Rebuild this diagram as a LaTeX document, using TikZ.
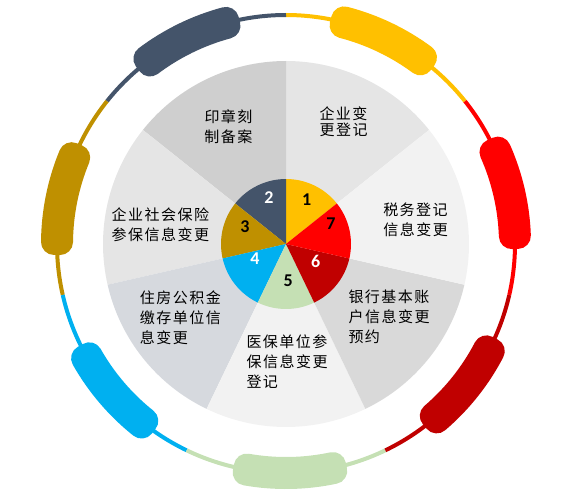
\documentclass[tikz,border=0pt]{standalone}
\usepackage{fontspec}
\newfontfamily\cjk[LetterSpace=10]{Noto Sans CJK SC}
\newfontfamily\numfont{Carlito}

\definecolor{cOne}{HTML}{FFC000}
\definecolor{cTwo}{HTML}{44546A}
\definecolor{cThree}{HTML}{BF9000}
\definecolor{cFour}{HTML}{00B0F0}
\definecolor{cFive}{HTML}{C5E0B4}
\definecolor{cSix}{HTML}{C00000}
\definecolor{cSeven}{HTML}{FF0000}

\tikzset{
  ring/.style={line width=4},
  bar/.style={line width=26, line join=round},
  tasktext/.style={font=\cjk\fontsize{15}{20}\selectfont, align=left, inner sep=0},
  numtext/.style={font=\numfont\bfseries\fontsize{18}{18}\selectfont, inner sep=0}
}

\begin{document}
\begin{tikzpicture}[x=1pt,y=1pt]
  \useasboundingbox (-286,-257) rectangle (286,244);

  % big sectors
  \fill[gray!20]        (0,0) -- (38.57:183) arc (38.57:90:183) -- cycle;
  \fill[black!19]       (0,0) -- (90:183) arc (90:141.43:183) -- cycle;
  \fill[gray!20]        (0,0) -- (141.43:183) arc (141.43:192.86:183) -- cycle;
  \fill[cTwo!22]        (0,0) -- (192.86:183) arc (192.86:244.29:183) -- cycle;
  \fill[black!5]        (0,0) -- (244.29:183) arc (244.29:295.71:183) -- cycle;
  \fill[black!15]       (0,0) -- (295.71:183) arc (295.71:347.14:183) -- cycle;
  \fill[black!5]        (0,0) -- (-12.86:183) arc (-12.86:38.57:183) -- cycle;

  % small pie
  \fill[cOne]   (0,0) -- (38.57:65) arc (38.57:90:65) -- cycle;
  \fill[cTwo]   (0,0) -- (90:65) arc (90:141.43:65) -- cycle;
  \fill[cThree] (0,0) -- (141.43:65) arc (141.43:192.86:65) -- cycle;
  \fill[cFour]  (0,0) -- (192.86:65) arc (192.86:244.29:65) -- cycle;
  \fill[cFive]  (0,0) -- (244.29:65) arc (244.29:295.71:65) -- cycle;
  \fill[cSix]   (0,0) -- (295.71:65) arc (295.71:347.14:65) -- cycle;
  \fill[cSeven] (0,0) -- (-12.86:65) arc (-12.86:38.57:65) -- cycle;

  % thin ring
  \draw[ring, cOne]   (38.57:229) arc (38.57:90:229);
  \draw[ring, cTwo]   (90:229) arc (90:141.43:229);
  \draw[ring, cThree] (141.43:229) arc (141.43:192.86:229);
  \draw[ring, cFour]  (192.86:229) arc (192.86:244.29:229);
  \draw[ring, cFive]  (244.29:229) arc (244.29:295.71:229);
  \draw[ring, cSix]   (295.71:229) arc (295.71:347.14:229);
  \draw[ring, cSeven] (-12.86:229) arc (-12.86:38.57:229);

  % thick bars on the ring
  \filldraw[bar, cOne]   (53.5:226) arc (53.5:75.5:226) -- (75.5:232) arc (75.5:53.5:232) -- cycle;
  \filldraw[bar, cTwo]   (105:226) arc (105:127:226) -- (127:232) arc (127:105:232) -- cycle;
  \filldraw[bar, cThree] (157.5:226) arc (157.5:179.5:226) -- (179.5:232) arc (179.5:157.5:232) -- cycle;
  \filldraw[bar, cFour]  (209.5:226) arc (209.5:231.5:226) -- (231.5:232) arc (231.5:209.5:232) -- cycle;
  \filldraw[bar, cFive]  (260:226) arc (260:282:226) -- (282:232) arc (282:260:232) -- cycle;
  \filldraw[bar, cSix]   (-49.5:226) arc (-49.5:-27.5:226) -- (-27.5:232) arc (-27.5:-49.5:232) -- cycle;
  \filldraw[bar, cSeven] (2:226) arc (2:24:226) -- (24:232) arc (24:2:232) -- cycle;

  % numbers
  \node[numtext, text=black] (n1) at (20.7,44.7)  {1};
  \node[numtext, text=white] (n2) at (-17,46.7)   {2};
  \node[numtext, text=black] (n3) at (-41,17.3)   {3};
  \node[numtext, text=white] (n4) at (-31,-15)    {4};
  \node[numtext, text=black] (n5) at (2.3,-36.7)  {5};
  \node[numtext, text=white] (n6) at (29.7,-17.7) {6};
  \node[numtext, text=black] (n7) at (45,20)      {7};

  % task labels
  \node[tasktext, font=\cjk\fontsize{15}{16}\selectfont] (t1) at (57.5,122) {企业变\\更登记};
  \node[tasktext] (t2) at (-57.5,117)  {印章刻\\制备案};
  \node[tasktext] (t3) at (-125.5,19.5) {企业社会保险\\参保信息变更};
  \node[tasktext] (t4) at (-105.5,-74) {住房公积金\\缴存单位信\\息变更};
  \node[tasktext] (t5) at (1,-118)     {医保单位参\\保信息变更\\登记};
  \node[tasktext] (t6) at (103,-73)    {银行基本账\\户信息变更\\预约};
  \node[tasktext] (t7) at (129.5,24)   {税务登记\\信息变更};
\end{tikzpicture}
\end{document}
